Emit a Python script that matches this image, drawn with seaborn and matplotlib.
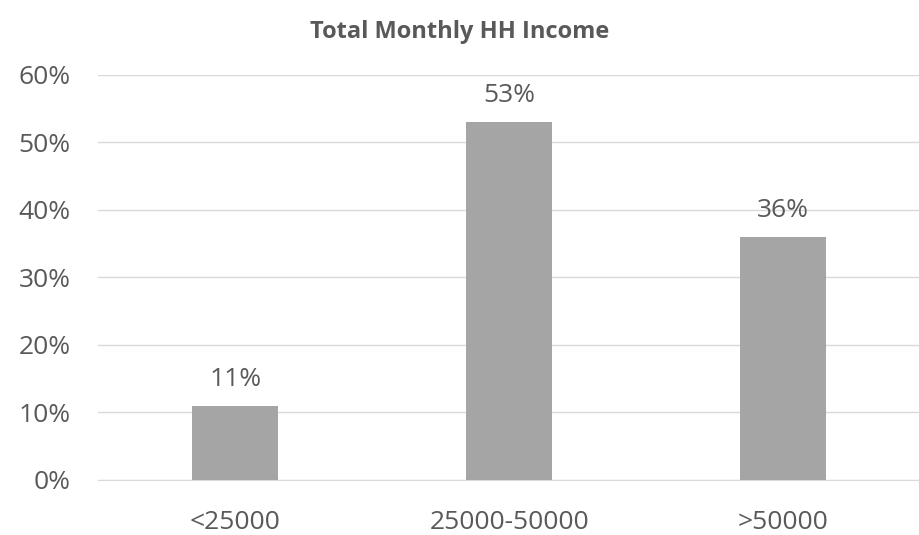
import matplotlib
matplotlib.use("Agg")
import matplotlib.pyplot as plt
import seaborn as sns
import pandas as pd

# data
categories = ["<25000", "25000-50000", ">50000"]
shares = [11, 53, 36]  # percent of households
y_ticks = [0, 10, 20, 30, 40, 50, 60]

text_color = "#595959"
bar_color = "#A5A5A5"
grid_color = "#D9D9D9"


def main():
    sns.set_style("white")
    plt.rcParams["font.family"] = ["Open Sans", "DejaVu Sans"]

    df = pd.DataFrame({"category": categories, "share": shares})

    fig = plt.figure(figsize=(9.2, 5.35), dpi=100)
    ax = fig.add_axes([0.107, 0.103, 0.893, 0.757])

    sns.barplot(data=df, x="category", y="share", color=bar_color,
                saturation=1, width=0.315, linewidth=0, ax=ax, zorder=3)

    ax.set_ylim(0, 60)
    ax.set_xlim(-0.5, 2.5)
    ax.set_yticks(y_ticks)
    ax.set_yticklabels([f"{t}%" for t in y_ticks])
    ax.yaxis.grid(True, color=grid_color, linewidth=1)
    ax.set_axisbelow(True)
    for side in ["top", "right", "left"]:
        ax.spines[side].set_visible(False)
    ax.spines["bottom"].set_color(grid_color)
    ax.tick_params(axis="both", length=0, labelsize=19, colors=text_color)
    ax.tick_params(axis="x", pad=22)
    ax.tick_params(axis="y", pad=20)
    ax.set_xlabel("")
    ax.set_ylabel("")

    # value labels above the bars
    for i, v in enumerate(shares):
        ax.annotate(f"{v}%", (i, v), xytext=(0, 10), textcoords="offset points",
                    ha="center", va="bottom", fontsize=19, color=text_color)

    fig.text(0.5, 0.94, "Total Monthly HH Income", ha="center", va="center",
             fontsize=17, fontweight="bold", color=text_color)

    fig.savefig("out.png", dpi=100)


if __name__ == "__main__":
    main()
